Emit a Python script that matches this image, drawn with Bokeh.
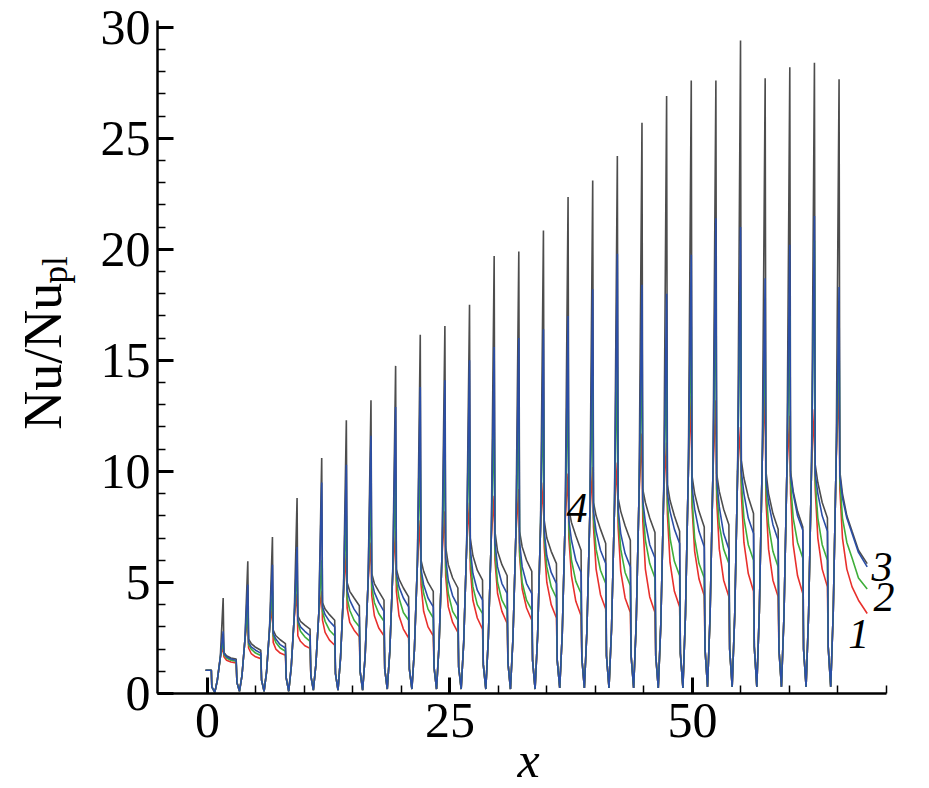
import math
from bokeh.plotting import figure
from bokeh.layouts import row
from bokeh.models import Range1d, FixedTicker, Label
from bokeh.core.properties import value
from bokeh.embed import file_html
from bokeh.resources import INLINE

# ---- data ----
peak_x = [1.62, 4.16, 6.70, 9.24, 11.78, 14.32, 16.86, 19.40, 21.94, 24.48, 27.02, 29.56, 32.10,
          34.64, 37.18, 39.72, 42.26, 44.80, 47.34, 49.88, 52.42, 54.96, 57.50, 60.04, 62.58, 65.12]

# point offsets inside one cycle (relative to its peak)
off_trough, off_r1, off_r2 = -0.86, -0.6, -0.3
off_k, off_m1, off_m2, off_e, off_d = 0.08, 0.35, 0.8, 1.34, 1.42
off_tail = [2.0, 2.9]

# entry part before the first cycle
start_x = [-0.2, 0.40, 0.45]
start_y = [1.05, 1.05, 0.3]

trough = [0.05, 0.1, 0.1, 0.1, 0.15, 0.15, 0.15, 0.2, 0.2, 0.2, 0.2, 0.2, 0.2, 0.2, 0.25, 0.25,
          0.25, 0.25, 0.25, 0.25, 0.3, 0.3, 0.3, 0.3, 0.3, 0.3]
rise1 = [0.6, 0.8, 1.0, 1.2, 1.3, 1.6, 1.7, 1.9, 2.0, 2.2, 2.3, 2.5, 2.5, 2.6, 2.7, 2.8, 2.9,
         3.1, 3.1, 3.5, 3.5, 3.5, 3.7, 3.5, 3.6, 3.7]
rise2 = [1.6, 2.4, 2.9, 3.4, 3.6, 4.5, 5.0, 5.4, 5.8, 6.2, 6.6, 7.0, 7.2, 7.5, 7.8, 8.0, 8.3,
         9.0, 9.0, 10.0, 10.0, 10.0, 10.5, 10.0, 10.2, 10.5]
drop = [0.5, 0.6, 0.7, 0.8, 0.9, 1.0, 1.1, 1.1, 1.2, 1.2, 1.3, 1.4, 1.5, 1.5, 1.6, 1.7, 1.7,
        1.7, 1.8, 2.0, 2.0, 2.1, 2.0, 2.0, 2.1]

# series 4 (black)
peak4 = [4.3, 5.95, 7.05, 8.8, 10.6, 12.3, 13.2, 14.75, 16.15, 16.55, 17.5, 19.7, 19.9, 20.85,
         22.35, 23.1, 24.2, 25.7, 26.9, 27.6, 27.6, 29.4, 27.7, 28.2, 28.4, 27.65]
knee4 = [1.85, 2.45, 2.85, 3.5, 4.1, 5.0, 5.4, 5.6, 6.0, 6.6, 7.0, 7.3, 7.3, 7.8, 8.3, 8.6, 8.8,
         9.2, 9.4, 9.8, 9.9, 10.5, 10.0, 10.0, 10.3, 10.0]
mid4a = [1.7, 2.25, 2.6, 3.25, 3.8, 4.6, 4.95, 5.15, 5.5, 5.8, 6.2, 6.4, 6.6, 7.0, 7.7, 8.0, 8.2,
         8.6, 8.7, 9.0, 9.1, 9.7, 9.0, 9.1, 9.5, 9.0]
mid4b = [1.6, 2.08, 2.42, 3.08, 3.55, 4.3, 4.6, 4.75, 5.0, 5.2, 5.55, 5.8, 6.0, 6.4, 7.1, 7.4,
         7.55, 7.9, 8.0, 8.2, 8.3, 8.85, 8.1, 8.2, 8.6, 8.0]
end4 = [1.55, 1.95, 2.25, 2.9, 3.3, 3.95, 4.2, 4.35, 4.6, 4.75, 5.1, 5.3, 5.5, 5.85, 6.45, 6.75,
        6.9, 7.25, 7.3, 7.5, 7.6, 8.1, 7.4, 7.5, 7.9, 7.3]
tail4 = [6.45, 5.85]

# series 3 (blue)
peak3 = [2.8, 4.9, 5.8, 6.6, 9.5, 10.3, 11.6, 12.9, 13.8, 14.1, 15.0, 15.6, 16.0, 16.4, 17.0,
         18.2, 19.8, 18.4, 18.0, 19.75, 21.4, 21.0, 18.7, 20.2, 21.5, 18.3]
knee3 = [1.8, 2.3, 2.7, 3.3, 3.9, 4.65, 5.1, 5.4, 5.6, 6.1, 6.5, 6.8, 6.8, 7.3, 7.8, 8.2, 8.3,
         8.7, 9.0, 9.3, 9.6, 10.0, 9.6, 9.8, 9.9, 9.8]
mid3a = [1.65, 2.1, 2.45, 3.0, 3.55, 4.2, 4.55, 4.8, 4.9, 5.1, 5.4, 5.7, 5.7, 6.2, 6.9, 7.3, 7.2,
         7.7, 8.2, 8.3, 8.4, 9.0, 8.6, 9.0, 9.0, 8.8]
mid3b = [1.55, 1.95, 2.2, 2.8, 3.25, 3.8, 4.1, 4.3, 4.3, 4.4, 4.65, 4.95, 4.95, 5.45, 6.0, 6.45,
         6.3, 6.7, 7.4, 7.3, 7.2, 7.9, 7.6, 8.0, 8.0, 7.9]
end3 = [1.5, 1.82, 2.05, 2.6, 3.0, 3.45, 3.7, 3.9, 3.9, 3.95, 4.2, 4.5, 4.5, 4.95, 5.45, 5.85,
        5.7, 6.1, 6.75, 6.6, 6.5, 7.2, 6.9, 7.35, 7.3, 7.2]
tail3 = [6.35, 5.7]

# series 2 (green)
peak2 = [2.4, 3.75, 4.6, 5.6, 6.0, 8.0, 8.8, 9.6, 10.5, 11.0, 11.8, 12.3, 12.8, 13.2, 13.8, 14.3,
         14.7, 15.2, 15.0, 16.5, 18.2, 18.3, 16.0, 17.0, 20.4, 16.5]
knee2 = [1.75, 2.2, 2.6, 3.2, 3.7, 4.3, 4.8, 5.1, 5.4, 5.7, 6.1, 6.4, 6.4, 7.0, 7.4, 7.9, 8.0,
         8.4, 8.6, 8.8, 9.2, 9.6, 9.3, 9.5, 9.6, 9.6]
mid2a = [1.6, 2.0, 2.3, 2.8, 3.25, 3.75, 4.1, 4.3, 4.5, 4.5, 4.8, 5.0, 5.0, 5.7, 6.0, 6.5, 6.5,
         6.9, 7.0, 7.0, 7.6, 7.9, 7.6, 7.9, 7.9, 7.9]
mid2b = [1.5, 1.82, 2.05, 2.55, 2.85, 3.3, 3.6, 3.65, 3.8, 3.7, 4.0, 4.2, 4.2, 4.8, 5.05, 5.55,
         5.45, 5.85, 5.95, 5.85, 6.5, 6.7, 6.4, 6.8, 6.7, 6.8]
end2 = [1.45, 1.71, 1.9, 2.35, 2.6, 3.0, 3.25, 3.3, 3.4, 3.3, 3.6, 3.75, 3.75, 4.3, 4.5, 4.95,
        4.85, 5.2, 5.3, 5.2, 5.85, 6.0, 5.7, 6.1, 6.0, 6.1]
tail2 = [5.2, 4.7]

# series 1 (red)
peak1 = [2.15, 3.45, 3.9, 4.5, 4.6, 6.3, 6.8, 7.3, 7.8, 8.2, 8.6, 8.9, 9.2, 9.5, 9.9, 10.2, 10.4,
         11.7, 11.3, 13.4, 13.2, 12.0, 13.7, 12.5, 12.8, 14.0]
knee1 = [1.65, 2.05, 2.3, 2.6, 3.3, 3.85, 4.4, 4.6, 4.9, 5.3, 5.6, 6.0, 6.2, 6.6, 7.0, 7.5, 7.5,
         7.8, 8.1, 8.4, 8.7, 9.0, 8.7, 9.0, 9.2, 9.2]
mid1a = [1.5, 1.8, 2.0, 2.35, 2.75, 3.2, 3.5, 3.5, 3.7, 3.9, 4.2, 4.5, 4.7, 5.0, 5.3, 5.6, 5.5,
         5.6, 5.9, 6.4, 6.5, 6.8, 6.5, 6.7, 7.0, 7.0]
mid1b = [1.42, 1.65, 1.82, 2.15, 2.4, 2.85, 2.95, 2.9, 3.0, 3.2, 3.4, 3.7, 3.85, 4.0, 4.15, 4.45,
         4.3, 4.35, 4.6, 5.15, 5.1, 5.4, 5.1, 5.3, 5.6, 5.6]
end1 = [1.38, 1.57, 1.72, 2.03, 2.17, 2.55, 2.6, 2.5, 2.6, 2.75, 2.9, 3.15, 3.3, 3.4, 3.5, 3.8,
        3.65, 3.65, 3.9, 4.4, 4.35, 4.6, 4.35, 4.5, 4.8, 4.8]
tail1 = [4.2, 3.6]

x_ticks = [0, 25, 50]
x_minor = [5, 10, 15, 20, 30, 35, 40, 45, 55, 60, 65, 70]
y_ticks = [0, 5, 10, 15, 20, 25, 30]
y_minor = list(range(0, 31))

curve_labels = [("4", 38.1, 8.33), ("3", 69.55, 5.7), ("2", 69.75, 4.35), ("1", 67.15, 2.7)]


def build(peak, knee, mida, midb, end, tail):
    xs, ys = list(start_x), list(start_y)
    n = len(peak_x)
    for i in range(n):
        xp = peak_x[i]
        xs += [xp + off_trough, xp + off_r1, xp + off_r2, xp,
               xp + off_k, xp + off_m1, xp + off_m2, xp + off_e]
        ys += [trough[i], rise1[i], rise2[i], peak[i], knee[i], mida[i], midb[i], end[i]]
        if i < n - 1:
            xs.append(xp + off_d)
            ys.append(drop[i])
        else:
            xs += [xp + o for o in off_tail]
            ys += tail
    return xs, ys


SERIF = "Liberation Serif"
LAB_W = 90
H = 770

# --- left strip that carries the y-axis title (with subscript) ---
lab = figure(width=LAB_W, height=H, output_backend="svg", toolbar_location=None,
             x_range=Range1d(0, LAB_W), y_range=Range1d(0, H),
             x_axis_location=None, y_axis_location=None, min_border=0)
lab.outline_line_color = None
lab.xgrid.visible = False
lab.ygrid.visible = False
lab.text(x=[42], y=[H - 396], text=["Nu/Nu"], angle=math.pi / 2,
         text_font=value(SERIF), text_font_size="54px", text_align="center",
         text_baseline="middle", text_color="black")
lab.text(x=[55], y=[H - 294], text=["pl"], angle=math.pi / 2,
         text_font=value(SERIF), text_font_size="35px", text_align="center",
         text_baseline="middle", text_color="black")

# --- main plot ---
p = figure(frame_width=742, frame_height=673, output_backend="svg", toolbar_location=None,
           x_range=Range1d(-5.15, 71.35), y_range=Range1d(0, 30.3),
           min_border_left=157 - LAB_W, min_border_right=10, min_border_top=20,
           min_border_bottom=10)
p.outline_line_color = None
p.xgrid.visible = False
p.ygrid.visible = False
p.background_fill_color = "white"

series = [
    (peak4, knee4, mid4a, mid4b, end4, tail4, "#4d4d4d"),
    (peak1, knee1, mid1a, mid1b, end1, tail1, "#e8302c"),
    (peak2, knee2, mid2a, mid2b, end2, tail2, "#3fae3a"),
    (peak3, knee3, mid3a, mid3b, end3, tail3, "#2b4ea6"),
]
for pk, kn, ma, mb, en, tl, col in series:
    xs, ys = build(pk, kn, ma, mb, en, tl)
    p.line(xs, ys, line_color=col, line_width=1.6)

for ax in (p.xaxis[0], p.yaxis[0]):
    ax.axis_line_width = 2.5
    ax.axis_line_color = "black"
    ax.major_tick_line_width = 3
    ax.major_tick_line_color = "black"
    ax.minor_tick_line_width = 1.5
    ax.minor_tick_line_color = "black"
    ax.major_tick_in = 16
    ax.major_tick_out = 0
    ax.minor_tick_in = 8
    ax.minor_tick_out = 0
    ax.major_label_text_font = SERIF
    ax.major_label_text_font_size = "50px"
    ax.major_label_text_color = "black"

p.xaxis.bounds = (-5.15, 70)
p.xaxis.ticker = FixedTicker(ticks=x_ticks, minor_ticks=x_minor)
p.yaxis.ticker = FixedTicker(ticks=y_ticks, minor_ticks=y_minor)
p.xaxis.major_label_standoff = 10
p.yaxis.major_label_standoff = 7

p.xaxis.axis_label = "x"
p.xaxis.axis_label_text_font = SERIF
p.xaxis.axis_label_text_font_style = "italic"
p.xaxis.axis_label_text_font_size = "50px"
p.xaxis.axis_label_text_color = "black"
p.xaxis.axis_label_standoff = -8

for txt, lx, ly in curve_labels:
    p.add_layout(Label(x=lx, y=ly, text=txt, text_font=SERIF, text_font_style="italic",
                       text_font_size="42px", text_align="center", text_baseline="middle",
                       text_color="black"))

open("out.html", "w").write(file_html(row(lab, p), INLINE))
